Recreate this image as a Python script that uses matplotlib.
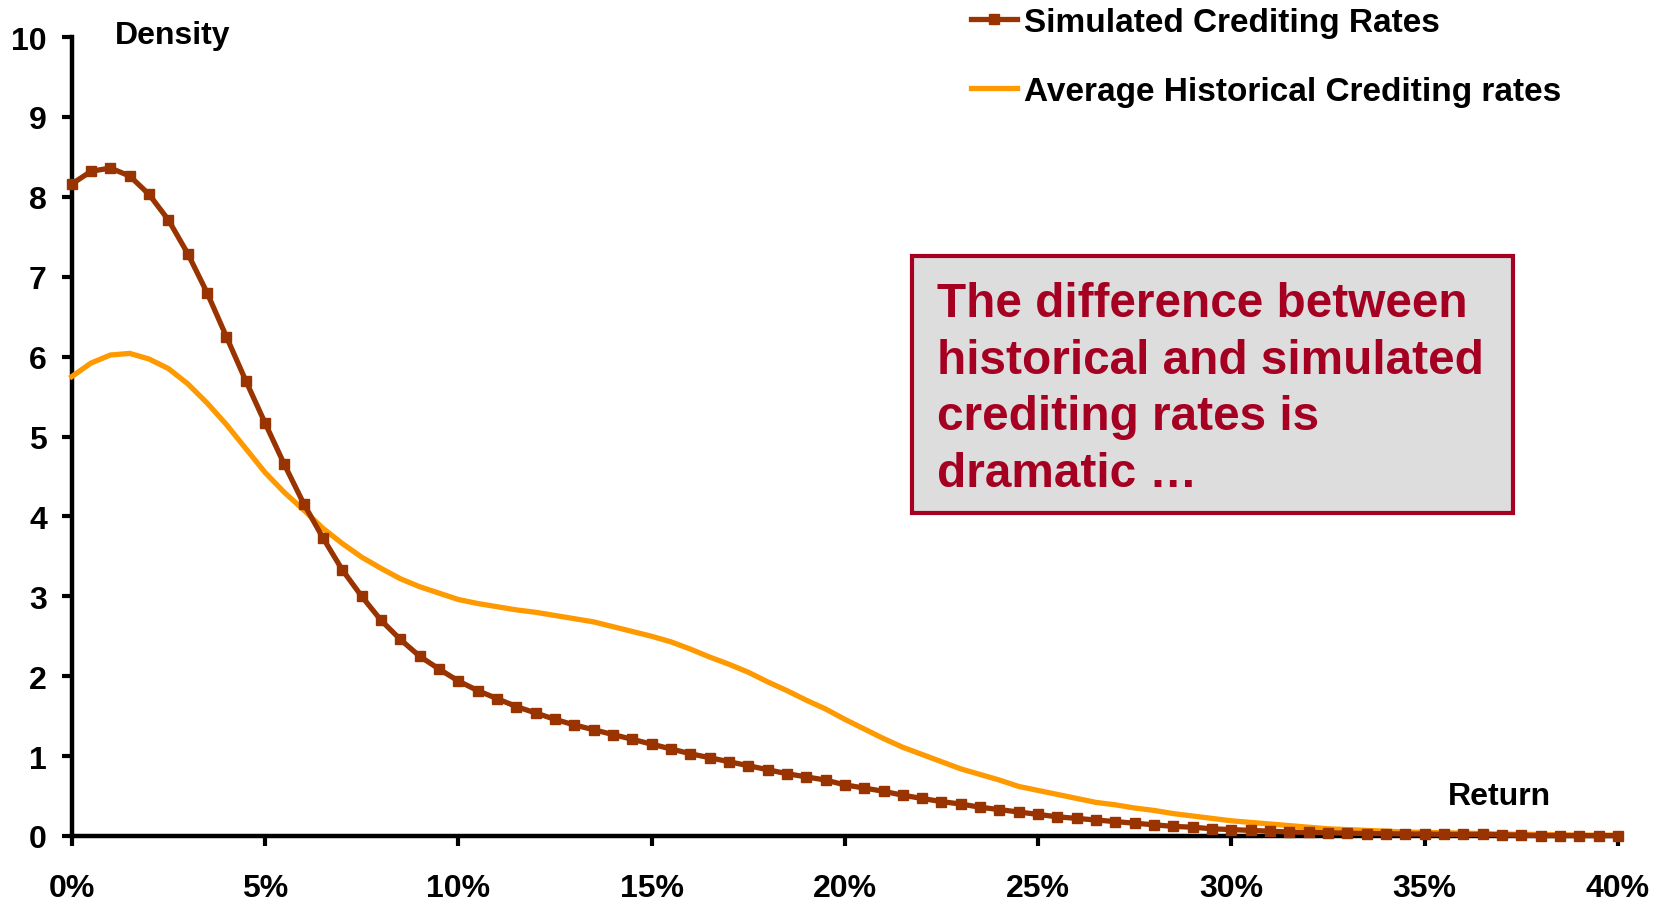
"""Density of simulated vs. average historical crediting rates."""

import numpy as np
import matplotlib
matplotlib.use("Agg")
import matplotlib.pyplot as plt
from matplotlib.patches import Rectangle
from matplotlib.ticker import FuncFormatter

plt.rcParams["font.family"] = ["Liberation Sans", "DejaVu Sans"]
plt.rcParams["font.weight"] = "bold"

BROWN = "#993300"
ORANGE = "#FF9900"
CRIMSON = "#A50021"

# return grid, 0% .. 40% in 0.5% steps
returns = np.arange(81) * 0.005

simulated = [
    8.16, 8.32, 8.36, 8.26, 8.03, 7.71, 7.29, 6.80, 6.25, 5.70,
    5.17, 4.65, 4.16, 3.73, 3.33, 3.00, 2.70, 2.46, 2.25, 2.09,
    1.94, 1.82, 1.72, 1.62, 1.54, 1.46, 1.39, 1.33, 1.27, 1.21,
    1.15, 1.09, 1.03, 0.98, 0.93, 0.88, 0.83, 0.78, 0.74, 0.70,
    0.64, 0.60, 0.56, 0.51, 0.47, 0.43, 0.40, 0.36, 0.33, 0.30,
    0.27, 0.24, 0.22, 0.20, 0.18, 0.16, 0.14, 0.12, 0.11, 0.09,
    0.08, 0.07, 0.06, 0.05, 0.045, 0.04, 0.035, 0.03, 0.03, 0.025,
    0.025, 0.02, 0.02, 0.02, 0.015, 0.01, 0.005, 0.005, 0.005, 0.005,
    0.005,
]

historical = [
    5.75, 5.92, 6.02, 6.04, 5.97, 5.85, 5.66, 5.42, 5.15, 4.85,
    4.55, 4.30, 4.08, 3.85, 3.66, 3.49, 3.35, 3.22, 3.12, 3.04,
    2.96, 2.91, 2.87, 2.83, 2.80, 2.76, 2.72, 2.68, 2.62, 2.56,
    2.50, 2.43, 2.34, 2.24, 2.15, 2.05, 1.93, 1.82, 1.70, 1.59,
    1.46, 1.34, 1.22, 1.11, 1.02, 0.93, 0.84, 0.77, 0.70, 0.62,
    0.57, 0.52, 0.47, 0.42, 0.39, 0.35, 0.32, 0.28, 0.25, 0.22,
    0.19, 0.17, 0.15, 0.13, 0.11, 0.09, 0.08, 0.07, 0.06, 0.05,
    0.045, 0.04, 0.035, 0.03, 0.025, 0.02, 0.02, 0.015, 0.01, 0.01,
    0.01,
]

series_labels = ["Simulated Crediting Rates", "Average Historical Crediting rates"]
x_ticks = [0.0, 0.05, 0.10, 0.15, 0.20, 0.25, 0.30, 0.35, 0.40]
y_ticks = list(range(0, 11))
note_lines = [
    "The difference between",
    "historical and simulated",
    "crediting rates is",
    "dramatic \u2026",
]

fig = plt.figure(figsize=(16.69, 9.03), dpi=100)
ax = fig.add_axes([0.043, 0.0731, 0.9264, 0.8848])

ax.plot(returns, historical, color=ORANGE, lw=3.8, zorder=3,
        label=series_labels[1], clip_on=False)
ax.plot(returns, simulated, color=BROWN, lw=3.8, marker="s", ms=6.8,
        mec=BROWN, mfc=BROWN, zorder=4, label=series_labels[0],
        clip_on=False)

ax.set_xlim(0, 0.40)
ax.set_ylim(0, 10)
ax.set_xticks(x_ticks)
ax.set_yticks(y_ticks)
ax.xaxis.set_major_formatter(FuncFormatter(lambda v, _: f"{v * 100:.0f}%"))

for side in ("top", "right"):
    ax.spines[side].set_visible(False)
for side in ("left", "bottom"):
    ax.spines[side].set_linewidth(3.2)
ax.tick_params(axis="both", direction="out", length=7, width=3,
               labelsize=23)
ax.tick_params(axis="x", pad=20)
ax.tick_params(axis="y", pad=11)

ax.text(0.0111, 9.93, "Density", fontsize=23, ha="left", va="baseline")
ax.text(0.356, 0.40, "Return", fontsize=23, ha="left", va="baseline")

handles, labels = ax.get_legend_handles_labels()
order = [1, 0]
fig.legend([handles[i] for i in order], [labels[i] for i in order],
           loc="upper left", bbox_to_anchor=(971 / 1669, 0.991),
           frameon=False, fontsize=24, handlelength=1.38,
           handletextpad=0.22, labelspacing=1.13, borderpad=0,
           borderaxespad=0, numpoints=1)

# call-out box
ax.add_patch(Rectangle((0.5436, 0.404), 0.3886, 0.3225,
                       transform=ax.transAxes, facecolor="#DDDDDD",
                       edgecolor=CRIMSON, lw=3, zorder=5))
for i, line in enumerate(note_lines):
    ax.text(0.5598, 0.651 - i * 0.071, line, transform=ax.transAxes,
            fontsize=34.4, color=CRIMSON, ha="left", va="baseline",
            zorder=6)

fig.savefig("out.png", dpi=100)
